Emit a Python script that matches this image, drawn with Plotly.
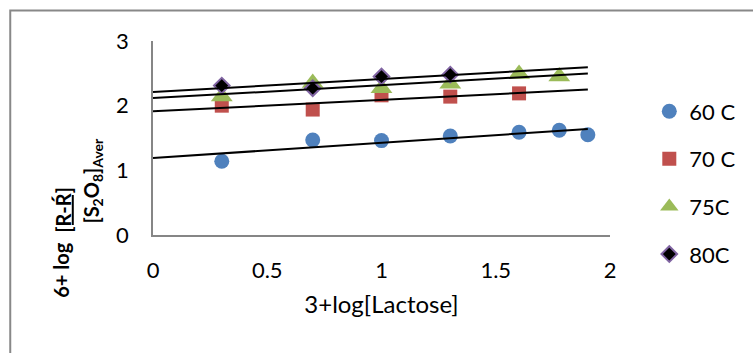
import numpy as np
import plotly.graph_objects as go

# ---- data ----
x60 = [0.301, 0.699, 1.000, 1.301, 1.602, 1.778, 1.903]
y60 = [1.14, 1.47, 1.46, 1.53, 1.59, 1.62, 1.55]

x70 = [0.301, 0.699, 1.000, 1.301, 1.602]
y70 = [2.00, 1.94, 2.16, 2.14, 2.19]

x75 = [0.301, 0.699, 1.000, 1.301, 1.602, 1.778]
y75 = [2.14, 2.35, 2.27, 2.34, 2.49, 2.45]

x80 = [0.301, 0.699, 1.000, 1.301]
y80 = [2.31, 2.27, 2.45, 2.48]

names = ["60 C", "70 C", "75C", "80C"]
xticks = [0, 0.5, 1, 1.5, 2]
yticks = [0, 1, 2, 3]

FONT = "Lato"
fig = go.Figure()

series = [
    (x60, y60, dict(symbol="circle", size=15, color="#4F81BD")),
    (x70, y70, dict(symbol="square", size=14, color="#C0504D")),
    (x75, y75, dict(symbol="triangle-up", size=19, color="#9BBB59")),
    (x80, y80, dict(symbol="diamond", size=12, color="#000000",
                    line=dict(color="#8064A2", width=2))),
]

xmax = max(x60)
for i, (xs, ys, mk) in enumerate(series):
    fig.add_trace(go.Scatter(x=xs, y=ys, mode="markers", name=names[i],
                             marker=mk, legendgroup=names[i]))

for i, (xs, ys, mk) in enumerate(series):
    m, b = np.polyfit(xs, ys, 1)
    xl = np.array([0.0, xmax])
    fig.add_trace(go.Scatter(x=xl, y=m * xl + b, mode="lines",
                             line=dict(color="black", width=2),
                             showlegend=False, hoverinfo="skip"))

axis_col = "#868686"
fig.update_layout(
    width=753, height=353,
    margin=dict(l=153, r=139, t=41, b=118),
    paper_bgcolor="white", plot_bgcolor="white",
    font=dict(family=FONT, size=22, color="black"),
    showlegend=True,
    legend=dict(x=1.086, xanchor="left", y=0.745, yanchor="top",
                font=dict(family=FONT, size=22), tracegroupgap=16,
                bgcolor="rgba(0,0,0,0)"),
    xaxis=dict(range=[0, 2], tickvals=xticks, ticktext=[str(t) for t in xticks],
               showgrid=False, zeroline=False, showline=True,
               linecolor=axis_col, linewidth=1.5, ticks="",
               ticklabelstandoff=15, tickfont=dict(size=22),
               title=dict(text="3+log[Lactose]", font=dict(size=24), standoff=14)),
    yaxis=dict(range=[0, 3], tickvals=yticks, showgrid=False, zeroline=False,
               showline=True, linecolor=axis_col, linewidth=1.5, ticks="",
               ticklabelstandoff=18, tickfont=dict(size=22)),
)

def px_x(p):
    return (p - 153) / 461

def px_y(p):
    return (235 - p) / 194

# y-axis title pieces (rotated)
fig.add_annotation(text="<b>6+ log</b>", xref="paper", yref="paper",
                   x=px_x(60), y=px_y(270), textangle=-90,
                   showarrow=False, font=dict(family=FONT, size=20),
                   xanchor="center", yanchor="middle")
fig.add_annotation(text="<b><u>[R-Ŕ]</u></b>", xref="paper", yref="paper",
                   x=px_x(62), y=px_y(210), textangle=-90,
                   showarrow=False, font=dict(family=FONT, size=20),
                   xanchor="center", yanchor="middle")
fig.add_annotation(text="<b>[S<sub>2</sub>O<sub>8</sub>]<sub>Aver</sub></b>",
                   xref="paper", yref="paper",
                   x=px_x(91), y=px_y(181), textangle=-90,
                   showarrow=False, font=dict(family=FONT, size=20),
                   xanchor="center", yanchor="middle")

# outer chart border
fig.add_shape(type="rect", xref="paper", yref="paper",
              x0=px_x(9), x1=px_x(770),
              y0=px_y(370), y1=px_y(10.5),
              line=dict(color="#888888", width=2), layer="below")

fig.write_html("out.html")
